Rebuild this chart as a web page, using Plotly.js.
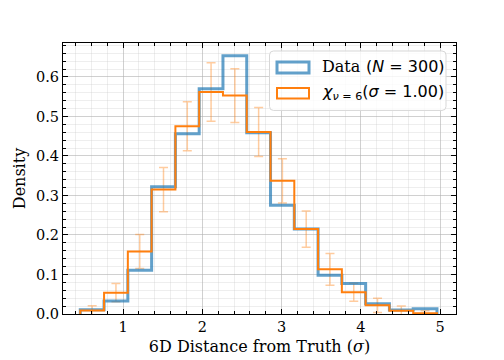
<!DOCTYPE html>
<html>
<head>
<meta charset="utf-8">
<script src="https://cdn.plot.ly/plotly-3.0.1.min.js"></script>
<style>
  html, body { margin: 0; padding: 0; background: white; }
  #chart { width: 504px; height: 360px; }
</style>
</head>
<body>
<div id="chart"></div>
<script>
// Histogram bin edges and bin centres (sigma)
var binEdges = [0.46, 0.76, 1.06, 1.36, 1.66, 1.96, 2.26, 2.56, 2.86, 3.16, 3.46, 3.76, 4.06, 4.36, 4.66, 4.96];
var binCenters = [0.61, 0.91, 1.21, 1.51, 1.81, 2.11, 2.41, 2.71, 3.01, 3.31, 3.61, 3.91, 4.21, 4.51, 4.81];

// Density of the data histogram (N = 300)
var dataDensity = [0.011, 0.033, 0.111, 0.322, 0.456, 0.570, 0.654, 0.459, 0.275, 0.215, 0.098, 0.077, 0.026, 0.010, 0.013];

// Expected density from chi distribution (nu = 6, sigma = 1.00)
var modelDensity = [0.009, 0.054, 0.158, 0.315, 0.475, 0.562, 0.553, 0.461, 0.337, 0.215, 0.113, 0.055, 0.022, 0.008, 0.002];

// Error bar half-lengths on the model
var modelErr = [0.012, 0.023, 0.043, 0.056, 0.062, 0.074, 0.068, 0.062, 0.056, 0.046, 0.040, 0.023, 0.018, 0.012, 0.006];

var blue = 'rgba(31,119,180,0.7)';
var orange = '#ff7f0e';

// step outline like matplotlib histtype='step'
function stepX(edges) { return [edges[0]].concat(edges); }
function stepY(vals) { return [0].concat(vals).concat([0]); }

var dataTrace = {
  x: stepX(binEdges),
  y: stepY(dataDensity),
  type: 'scatter',
  mode: 'lines',
  line: { shape: 'hv', color: blue, width: 3 },
  showlegend: false,
  hoverinfo: 'skip'
};

var modelTrace = {
  x: stepX(binEdges),
  y: stepY(modelDensity),
  type: 'scatter',
  mode: 'lines',
  line: { shape: 'hv', color: orange, width: 2 },
  showlegend: false,
  hoverinfo: 'skip'
};

var errTrace = {
  x: binCenters,
  y: modelDensity,
  type: 'scatter',
  mode: 'markers',
  marker: { opacity: 0, size: 1 },
  error_y: { type: 'data', array: modelErr, visible: true, color: 'rgba(255,127,14,0.4)', thickness: 1.5, width: 4.5 },
  showlegend: false,
  hoverinfo: 'skip'
};

var data = [errTrace, dataTrace, modelTrace];

var serif = 'DejaVu Serif, serif';
var sans = 'DejaVu Sans, sans-serif';

// plot area in pixels: x 63..456, y 43..314
function px(x) { return (x - 63) / 393; }
function py(y) { return (314.3 - y) / 271.3; }

// rounded legend frame as a path in paper coords
function roundRect(x0, y0, x1, y1, r) {
  var rx = r / 393, ry = r / 271.3;
  var a = px(x0), b = px(x1), top = py(y0), bot = py(y1);
  return 'M' + (a + rx) + ',' + top +
    ' L' + (b - rx) + ',' + top + ' Q' + b + ',' + top + ' ' + b + ',' + (top - ry) +
    ' L' + b + ',' + (bot + ry) + ' Q' + b + ',' + bot + ' ' + (b - rx) + ',' + bot +
    ' L' + (a + rx) + ',' + bot + ' Q' + a + ',' + bot + ' ' + a + ',' + (bot + ry) +
    ' L' + a + ',' + (top - ry) + ' Q' + a + ',' + top + ' ' + (a + rx) + ',' + top + ' Z';
}

var layout = {
  width: 504,
  height: 360,
  margin: { l: 63, r: 48, t: 43, b: 46 },
  paper_bgcolor: 'white',
  plot_bgcolor: 'white',
  showlegend: false,
  font: { family: serif, size: 14, color: 'black' },
  xaxis: {
    range: [0.242, 5.2],
    dtick: 1,
    tick0: 0,
    ticks: 'inside',
    ticklen: 5,
    tickcolor: 'black',
    showline: true,
    linecolor: 'black',
    linewidth: 1,
    mirror: 'allticks',
    showgrid: true,
    gridcolor: 'rgba(176,176,176,0.6)',
    gridwidth: 1,
    zeroline: false,
    tickfont: { family: serif, size: 14.5 },
    minor: { dtick: 0.2, ticks: 'inside', ticklen: 3, tickcolor: 'black', showgrid: true, gridcolor: 'rgba(200,200,200,0.3)', gridwidth: 1 },
    title: { text: '6D Distance from Truth (<i>σ</i>)', font: { family: serif, size: 16 }, standoff: 6 }
  },
  yaxis: {
    range: [0, 0.686],
    dtick: 0.1,
    tick0: 0,
    tickformat: '.1f',
    ticks: 'inside',
    ticklen: 5,
    tickcolor: 'black',
    showline: true,
    linecolor: 'black',
    linewidth: 1,
    mirror: 'allticks',
    showgrid: true,
    gridcolor: 'rgba(176,176,176,0.6)',
    gridwidth: 1,
    zeroline: false,
    tickfont: { family: serif, size: 14.5 },
    minor: { dtick: 0.02, ticks: 'inside', ticklen: 3, tickcolor: 'black', showgrid: true, gridcolor: 'rgba(200,200,200,0.3)', gridwidth: 1 },
    title: { text: 'Density', font: { family: serif, size: 16 }, standoff: 6 }
  },
  shapes: [
    // legend frame
    { type: 'path', xref: 'paper', yref: 'paper', path: roundRect(269.5, 51, 446, 110.5, 4),
      line: { color: 'rgb(215,215,215)', width: 1 }, fillcolor: 'rgba(255,255,255,0.8)', layer: 'above' },
    // legend patches
    { type: 'rect', xref: 'paper', yref: 'paper', x0: px(277), x1: px(309), y0: py(73), y1: py(62),
      line: { color: blue, width: 3 }, fillcolor: 'rgba(0,0,0,0)', layer: 'above' },
    { type: 'rect', xref: 'paper', yref: 'paper', x0: px(277), x1: px(309), y0: py(98.5), y1: py(88),
      line: { color: orange, width: 2 }, fillcolor: 'rgba(0,0,0,0)', layer: 'above' }
  ],
  annotations: [
    { xref: 'paper', yref: 'paper', x: px(320), y: py(67), xanchor: 'left', yanchor: 'middle', showarrow: false,
      text: 'Data', font: { family: serif, size: 16, color: 'black' } },
    { xref: 'paper', yref: 'paper', x: px(364), y: py(67), xanchor: 'left', yanchor: 'middle', showarrow: false,
      text: '(<i>N</i> = 300)', font: { family: sans, size: 16, color: 'black' } },
    { xref: 'paper', yref: 'paper', x: px(320), y: py(93), xanchor: 'left', yanchor: 'middle', showarrow: false,
      text: '<i>χ</i><sub><i>ν</i> = 6</sub>(<i>σ</i> = 1.00)', font: { family: sans, size: 16, color: 'black' } }
  ]
};

Plotly.newPlot('chart', data, layout, { displayModeBar: false, staticPlot: true });
</script>
</body>
</html>
